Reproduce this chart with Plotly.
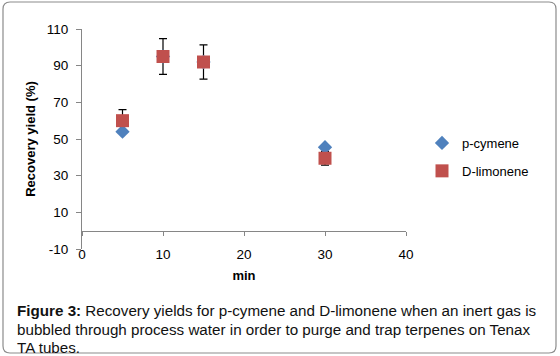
import plotly.graph_objects as go

minutes = [5, 10, 15, 30]
p_cymene = [54, 95, 92, 45.5]
d_limonene = [60, 95, 92, 39.5]
d_limonene_err = [6, 9.7, 9.3, 3.7]
x_ticks = [0, 10, 20, 30, 40]
y_ticks = [-10, 10, 30, 50, 70, 90, 110]
y_tick_text = ["-10", "10", "30", "50", "70", "90", "110"]
caption_lines = [
    "<b>Figure 3:</b> Recovery yields for p-cymene and D-limonene when an inert gas is",
    "bubbled through process water in order to purge and trap terpenes on Tenax",
    "TA tubes.",
]

FONT = "Liberation Sans"
GRAY = "#868686"

fig = go.Figure()
# error bars of D-limonene, drawn beneath the markers
fig.add_trace(go.Scatter(
    x=minutes, y=d_limonene, mode="markers", showlegend=False, hoverinfo="skip",
    marker=dict(size=1, opacity=0),
    error_y=dict(type="data", array=d_limonene_err, color="black", thickness=1.2, width=4),
))
fig.add_trace(go.Scatter(
    x=minutes, y=p_cymene, mode="markers", name="p-cymene", legendgroup="a",
    marker=dict(symbol="diamond", size=11, color="#4F81BD"),
))
fig.add_trace(go.Scatter(
    x=minutes, y=d_limonene, mode="markers", name="D-limonene", legendgroup="b",
    marker=dict(symbol="square", size=13, color="#C0504D"),
))

# plot area in pixels
L, R, T, B = 82, 406, 29, 249
W, H = 560, 356


def px(x):
    return (x - L) / (R - L)


def py(y):
    return (B - y) / (B - T)


# rounded frame
x0, y0, x1, y1, r = 3, 2, 556, 353, 7
path = (
    f"M {px(x0 + r)} {py(y0)} L {px(x1 - r)} {py(y0)} Q {px(x1)} {py(y0)} {px(x1)} {py(y0 + r)} "
    f"L {px(x1)} {py(y1 - r)} Q {px(x1)} {py(y1)} {px(x1 - r)} {py(y1)} "
    f"L {px(x0 + r)} {py(y1)} Q {px(x0)} {py(y1)} {px(x0)} {py(y1 - r)} "
    f"L {px(x0)} {py(y0 + r)} Q {px(x0)} {py(y0)} {px(x0 + r)} {py(y0)} Z"
)
fig.add_shape(type="path", path=path, xref="paper", yref="paper",
              line=dict(color="#8c8c8c", width=1.2), layer="below")

for i, line in enumerate(caption_lines):
    fig.add_annotation(
        x=px(15), y=py(310.5 + 18.5 * i), xref="paper", yref="paper",
        xanchor="left", yanchor="middle", align="left", showarrow=False,
        text=line, font=dict(family=FONT, size=15.2, color="#111"),
    )

fig.update_layout(
    width=W, height=H, autosize=False,
    margin=dict(l=L, r=W - R, t=T, b=H - B, pad=0),
    paper_bgcolor="white", plot_bgcolor="white",
    font=dict(family=FONT, size=13, color="black"),
    showlegend=True,
    legend=dict(x=px(422), y=py(128), xanchor="left", yanchor="top",
                font=dict(family=FONT, size=13), tracegroupgap=8,
                bgcolor="rgba(0,0,0,0)"),
    xaxis=dict(
        range=[0, 40], tickvals=x_ticks, showgrid=False, zeroline=False,
        showline=True, linecolor=GRAY, linewidth=1, ticks="outside", ticklen=4,
        tickcolor=GRAY, anchor="free", position=1 / 12, ticklabelstandoff=7,
        tickfont=dict(size=13.5), automargin=False,
        title=dict(text="<b>min</b>", font=dict(size=13), standoff=10),
    ),
    yaxis=dict(
        range=[-10, 110], tickvals=y_ticks, ticktext=y_tick_text, showgrid=False,
        zeroline=False, showline=True, linecolor=GRAY, linewidth=1, ticks="outside",
        ticklen=5, tickcolor=GRAY, tickfont=dict(size=13.5), ticklabelstandoff=5,
        automargin=False,
        title=dict(text="<b>Recovery yield (%)</b>", font=dict(size=13), standoff=8),
    ),
)

fig.write_html("out.html", post_script="document.body.style.margin='0';",
               config={"displayModeBar": False})
